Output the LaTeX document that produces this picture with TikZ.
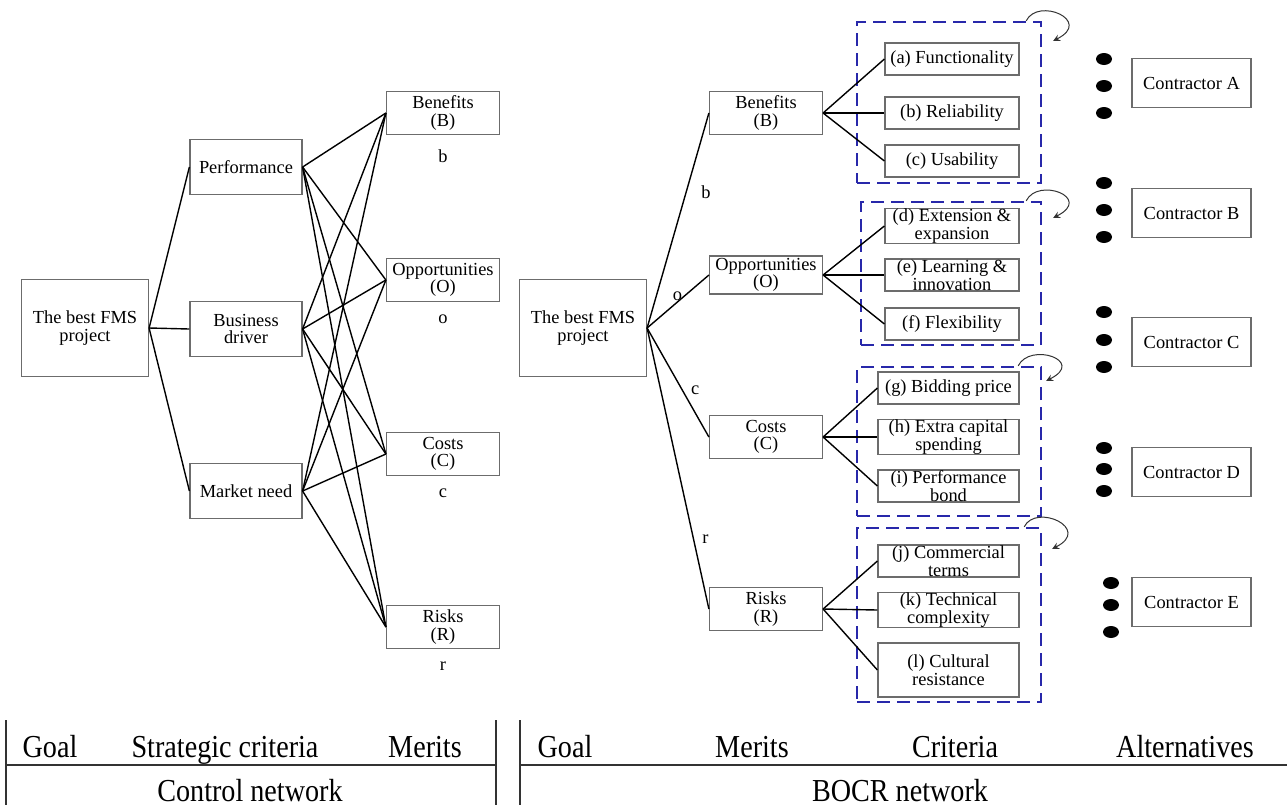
\documentclass[tikz,border=0pt]{standalone}
\usepackage{fontspec}
\setmainfont{Liberation Serif}
\usepackage{graphicx}
\usetikzlibrary{positioning}
\definecolor{grpblue}{RGB}{40,40,170}
\newcommand{\narrowtxt}[1]{\scalebox{0.88}[1]{#1}}

\begin{document}
\begin{tikzpicture}[x=0.5pt,y=-0.5pt,>=stealth,
    every node/.style={font=\fontsize{9.2}{8.8}\selectfont},
    box/.style={draw=gray!85!black, line width=0.6pt, align=center, inner sep=1pt},
    goalbox/.style={box, minimum width=63.5pt, minimum height=48.5pt},
    stratbox/.style={box, minimum width=56pt, minimum height=27.5pt},
    meritbox/.style={box, minimum width=56.5pt, minimum height=21.5pt},
    critbox/.style={box, inner ysep=0pt, minimum width=67pt, minimum height=16pt},
    altbox/.style={box, minimum width=59.5pt, minimum height=24.5pt},
    lbl/.style={inner sep=1pt},
    link/.style={line width=0.7pt},
    grp/.style={draw=grpblue, line width=1.2pt, dash pattern=on 6.5pt off 3.5pt, inner sep=0pt},
    fb/.style={->, line width=0.5pt, black!80},
    tbl/.style={font=\fontsize{16}{18}\selectfont, inner sep=1pt, anchor=base},
    rule/.style={line width=0.75pt, black!80},
  ]
\useasboundingbox (0,0) rectangle (1287,805);

% control network
\node[goalbox] (lgoal) at (85,328) {The best FMS\\project};
\node[stratbox] (perf) at (246,167) {Performance};
\node[stratbox] (bus) at (246,329) {Business\\driver};
\node[stratbox] (mkt) at (246,491) {Market need};
\node[meritbox] (lb) at (443,113) {Benefits\\(B)};
\node[meritbox] (lo) at (443,280) {Opportunities\\(O)};
\node[meritbox] (lc) at (443,454) {Costs\\(C)};
\node[meritbox] (lr) at (443,627) {Risks\\(R)};
\node[lbl, below=6pt of lb] (lbb) {b};
\node[lbl, below=5pt of lo] (lob) {o};
\node[lbl, below=5pt of lc] (lcb) {c};
\node[lbl, below=5pt of lr] (lrb) {r};

\path[link]
(lgoal.east) edge (perf.west)
(lgoal.east) edge (bus.west)
(lgoal.east) edge (mkt.west);

\path[link]
(perf.east) edge (lb.west) edge (lo.west) edge (lc.west) edge (lr.west)
(bus.east) edge (lb.west) edge (lo.west) edge (lc.west) edge (lr.west)
(mkt.east) edge (lb.west) edge (lo.west) edge (lc.west) edge (lr.west);

% BOCR network
\node[goalbox] (rgoal) at (583,328) {The best FMS\\project};
\node[meritbox] (rb) at (766,113) {Benefits\\(B)};
\node[meritbox, minimum height=19pt] (ro) at (766,275) {Opportunities\\(O)};
\node[meritbox] (rc) at (766,437) {Costs\\(C)};
\node[meritbox] (rr) at (766,609) {Risks\\(R)};

\node[critbox] (ca) at (952,59) {(a) Functionality};
\node[critbox] (cb) at (952,113) {(b) Reliability};
\node[critbox] (cc) at (952,161) {(c) Usability};
\node[critbox] (cd) at (952,226) {(d) Extension \&\\expansion};
\node[critbox] (ce) at (952,275) {(e) Learning \&\\innovation};
\node[critbox] (cf) at (952,324) {(f) Flexibility};
\node[critbox, minimum width=70.5pt] (cg) at (948.5,388) {(g) Bidding price};
\node[critbox, minimum width=70.5pt] (ch) at (948.5,437) {(h) Extra capital\\spending};
\node[critbox, minimum width=70.5pt] (ci) at (948.5,486) {(i) Performance\\bond};
\node[critbox, minimum width=70.5pt] (cj) at (948.5,561) {(j) Commercial\\terms};
\node[critbox, minimum width=70.5pt] (ck) at (948.5,610) {(k) Technical\\complexity};
\node[critbox, minimum width=70.5pt, minimum height=27pt] (cl) at (948.5,670) {(l) Cultural\\resistance};

\node[grp, minimum width=92pt, minimum height=80.5pt] (grb) at (949,102.5) {};
\node[grp, minimum width=90pt, minimum height=71.5pt] (gro) at (951,273.5) {};
\node[grp, minimum width=92pt, minimum height=74.5pt] (grc) at (949,441.5) {};
\node[grp, minimum width=92pt, minimum height=87pt] (grr) at (949,615) {};

\path[link]
(rgoal.east) edge node[lbl, pos=0.63, xshift=10pt] {b} (rb.west)
(rgoal.east) edge node[lbl, pos=0.49, yshift=3pt] {o} (ro.west)
(rgoal.east) edge node[lbl, pos=0.57, xshift=6.5pt] {c} (rc.west)
(rgoal.east) edge node[lbl, pos=0.75, xshift=6pt] {r} (rr.west);

\path[link]
(rb.east) edge (ca.west) edge (cb.west) edge (cc.west)
(ro.east) edge (cd.west) edge (ce.west) edge (cf.west)
(rc.east) edge (cg.west) edge (ch.west) edge (ci.west)
(rr.east) edge (cj.west) edge (ck.west) edge (cl.west);

% inner dependence loops
\draw[fb] ([xshift=-8pt]grb.north east) .. controls +(6pt,12pt) and +(20pt,10pt) .. ([xshift=5.5pt,yshift=-10pt]grb.north east);
\draw[fb] ([xshift=-8pt]gro.north east) .. controls +(6pt,12pt) and +(20pt,10pt) .. ([xshift=5.5pt,yshift=-8.5pt]gro.north east);
\draw[fb] ([xshift=-12pt]grc.north east) .. controls +(6pt,12pt) and +(20pt,10pt) .. ([xshift=2pt,yshift=-7.5pt]grc.north east);
\draw[fb] ([xshift=-9pt]grr.north east) .. controls +(6pt,12pt) and +(20pt,10pt) .. ([xshift=5pt,yshift=-11pt]grr.north east);

% alternatives
\node[altbox] (alta) at (1191.5,83) {Contractor A};
\node[altbox] (altb) at (1191.5,213) {Contractor B};
\node[altbox] (altc) at (1191.5,342) {Contractor C};
\node[altbox] (altd) at (1191.5,472) {Contractor D};
\node[altbox] (alte) at (1191.5,602) {Contractor E};
\foreach \y in {59,86,113,183,210,237,312,340,367,448,469,491}
  \fill (1104,\y) ellipse (4pt and 3pt);
\foreach \y in {583,605,632}
  \fill (1111,\y) ellipse (4pt and 3pt);

% legend
\draw[rule] (6,720) -- (6,805);
\draw[rule] (496,720) -- (496,805);
\draw[rule] (520,720) -- (520,805);
\draw[rule] (6,765) -- (496,765);
\draw[rule] (520,765) -- (1287,765);
\node[tbl] (tgoal) at (50,757) {\narrowtxt{Goal}};
\node[tbl] (tstrat) at (225,757) {\narrowtxt{Strategic criteria}};
\node[tbl] (tmer) at (425,757) {\narrowtxt{Merits}};
\node[tbl] (tctrl) at (250,801) {\narrowtxt{Control network}};
\node[tbl] (bgoal) at (565,757) {\narrowtxt{Goal}};
\node[tbl] (bmer) at (752,757) {\narrowtxt{Merits}};
\node[tbl] (bcrit) at (955,757) {\narrowtxt{Criteria}};
\node[tbl] (balt) at (1185,757) {\narrowtxt{Alternatives}};
\node[tbl] (bocr) at (900,801) {\narrowtxt{BOCR network}};
\end{tikzpicture}
\end{document}
